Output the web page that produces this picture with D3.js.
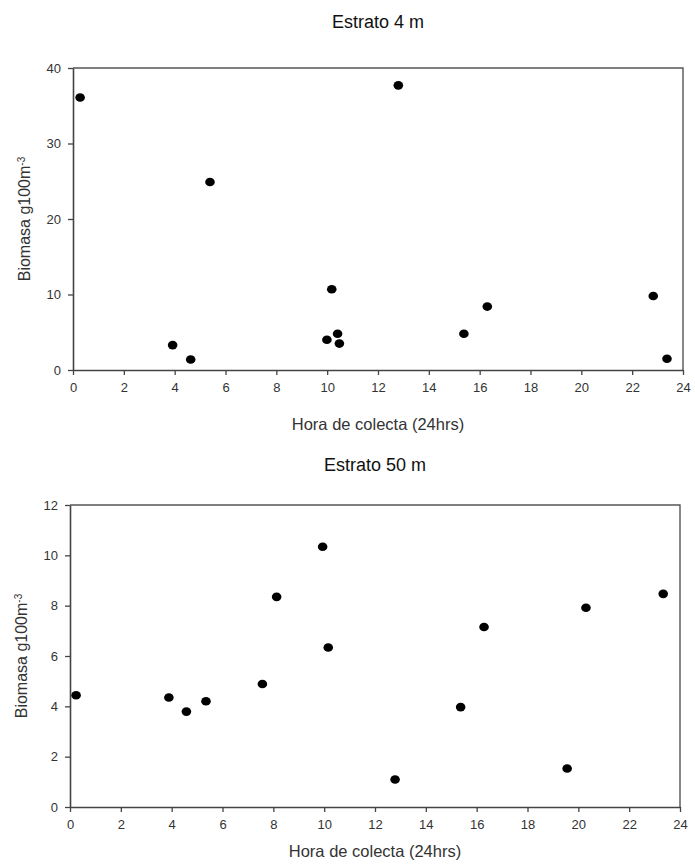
<!DOCTYPE html>
<html>
<head>
<meta charset="utf-8">
<script src="https://cdn.jsdelivr.net/npm/d3@7"></script>
<style>
	body { margin: 0; background: #fff; }
	text { font-family: "Liberation Sans", Arial, sans-serif; }
</style>
</head>
<body>
<div id="chart"></div>
<script>
const width = 695;
const height = 865;

// Estrato 4 m
const hours4 = [0.28, 3.92, 4.63, 5.39, 9.99, 10.18, 10.41, 10.48, 12.8, 15.38, 16.3, 22.83, 23.37];
const biomass4 = [36.1, 3.3, 1.4, 24.9, 4.0, 10.7, 4.8, 3.5, 37.7, 4.8, 8.4, 9.8, 1.5];

// Estrato 50 m
const hours50 = [0.24, 3.89, 4.58, 5.35, 7.57, 8.13, 9.94, 10.16, 12.79, 15.37, 16.29, 19.56, 20.3, 23.34];
const biomass50 = [4.44, 4.35, 3.79, 4.2, 4.89, 8.35, 10.34, 6.34, 1.09, 3.97, 7.15, 1.53, 7.92, 8.47];

const xTicks = [0, 2, 4, 6, 8, 10, 12, 14, 16, 18, 20, 22, 24];
const yTicks4 = [0, 10, 20, 30, 40];
const yTicks50 = [0, 2, 4, 6, 8, 10, 12];

const titles = ["Estrato 4 m", "Estrato 50 m"];
const xLabel = "Hora de colecta (24hrs)";

const svg = d3.select("#chart").append("svg")
	.attr("width", width)
	.attr("height", height);

const panel = function (box, hours, biomass, yTicks, title) {
	const x = d3.scaleLinear().domain([0, 24]).range([box.left, box.right]);
	const y = d3.scaleLinear().domain([0, d3.max(yTicks)]).range([box.bottom, box.top]);

	const g = svg.append("g");

	// title
	g.append("text")
		.attr("x", (box.left + box.right) / 2)
		.attr("y", box.top - box.titleGap)
		.attr("text-anchor", "middle")
		.attr("font-size", "18px")
		.attr("fill", "#111")
		.text(title);

	// frame, top and right
	g.append("path")
		.attr("d", `M${box.left},${box.top}H${box.right}V${box.bottom}`)
		.attr("fill", "none")
		.attr("stroke", "#555")
		.attr("stroke-width", 1.4);

	// x axis
	g.append("g")
		.attr("transform", `translate(0,${box.bottom})`)
		.call(d3.axisBottom(x).tickValues(xTicks).tickSize(5).tickPadding(8).tickSizeOuter(0))
		.call(a => a.select(".domain").attr("stroke", "#444").attr("stroke-width", 1.6))
		.call(a => a.selectAll(".tick line").attr("stroke", "#444").attr("stroke-width", 1.3))
		.call(a => a.selectAll(".tick text").attr("font-size", "13px").attr("fill", "#333")
			.attr("font-family", "'Liberation Sans', Arial, sans-serif"));

	// y axis
	g.append("g")
		.attr("transform", `translate(${box.left},0)`)
		.call(d3.axisLeft(y).tickValues(yTicks).tickSize(5).tickPadding(7).tickSizeOuter(0))
		.call(a => a.select(".domain").attr("stroke", "#444").attr("stroke-width", 1.6))
		.call(a => a.selectAll(".tick line").attr("stroke", "#444").attr("stroke-width", 1.3))
		.call(a => a.selectAll(".tick text").attr("font-size", "13px").attr("fill", "#333")
			.attr("font-family", "'Liberation Sans', Arial, sans-serif"));

	// axis labels
	g.append("text")
		.attr("x", (box.left + box.right) / 2)
		.attr("y", box.bottom + box.xLabelGap)
		.attr("text-anchor", "middle")
		.attr("font-size", "16.5px")
		.attr("fill", "#333")
		.text(xLabel);

	const yl = g.append("text")
		.attr("transform", `translate(${box.left - box.yLabelGap},${(box.top + box.bottom) / 2}) rotate(-90)`)
		.attr("text-anchor", "middle")
		.attr("font-size", "16px")
		.attr("fill", "#333");
	yl.append("tspan").text("Biomasa g100m");
	yl.append("tspan")
		.attr("dy", "-0.55em")
		.attr("font-size", "10px")
		.text("-3");

	// points
	g.append("g").selectAll("ellipse")
		.data(d3.zip(hours, biomass))
		.join("ellipse")
		.attr("cx", d => x(d[0]))
		.attr("cy", d => y(d[1]))
		.attr("rx", 4.8)
		.attr("ry", 4.3)
		.attr("fill", "#000");
};

panel({left: 73, right: 683, top: 68, bottom: 370, titleGap: 40, xLabelGap: 60, yLabelGap: 43},
	hours4, biomass4, yTicks4, titles[0]);
panel({left: 70, right: 680, top: 505, bottom: 807, titleGap: 34, xLabelGap: 50, yLabelGap: 43},
	hours50, biomass50, yTicks50, titles[1]);
</script>
</body>
</html>
